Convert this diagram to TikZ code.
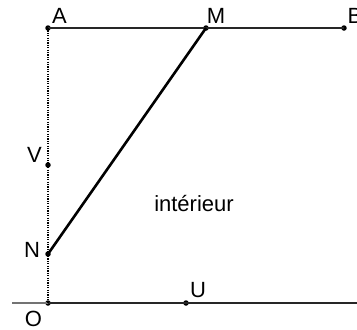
\documentclass[tikz,border=0pt]{standalone}
\usepackage{fontspec}
\setmainfont{Liberation Sans}
\usetikzlibrary{positioning}

\begin{document}
\begin{tikzpicture}[
  x=1pt, y=-1pt,
  font=\fontsize{22}{24}\selectfont,
  pt/.style={circle, fill=black, inner sep=0pt, minimum size=5.5pt},
  lbl/.style={inner sep=0pt},
  seg/.style={line width=1.8pt, black!85},
]
  \useasboundingbox (0,0) rectangle (357,330);

  % points
  \node[pt] (A) at (48,28) {};
  \node[pt] (M) at (206,28) {};
  \node[pt] (B) at (344,28) {};
  \node[pt] (V) at (48,165) {};
  \node[pt] (N) at (48,254) {};
  \node[pt] (O) at (48,303) {};
  \node[pt] (U) at (186,303) {};
  \coordinate (W) at (12,303);
  \coordinate (E) at (357,303);

  % labels
  \node[lbl] at (59.5,15.5) {A};
  \node[lbl] at (216,15.5) {M};
  \node[lbl] at (355,15.5) {B};
  \node[lbl] at (34.5,155) {V};
  \node[lbl] at (32,250) {N};
  \node[lbl] at (33.5,319) {O};
  \node[lbl] at (198,290) {U};
  \node[lbl] (int) at (194,204) {intérieur};

  % lines
  \draw[seg] (A.center) -- (B.center);
  \draw[line width=1.3pt, black!55] (W) -- (O.center);
  \draw[seg] (O.center) -- (E);
  \draw[line width=1.6pt, dash pattern=on 1.2pt off 1.2pt] (A.center) -- (O.center);
  \draw[line width=2.6pt] (N.center) -- (M.center);
\end{tikzpicture}
\end{document}
